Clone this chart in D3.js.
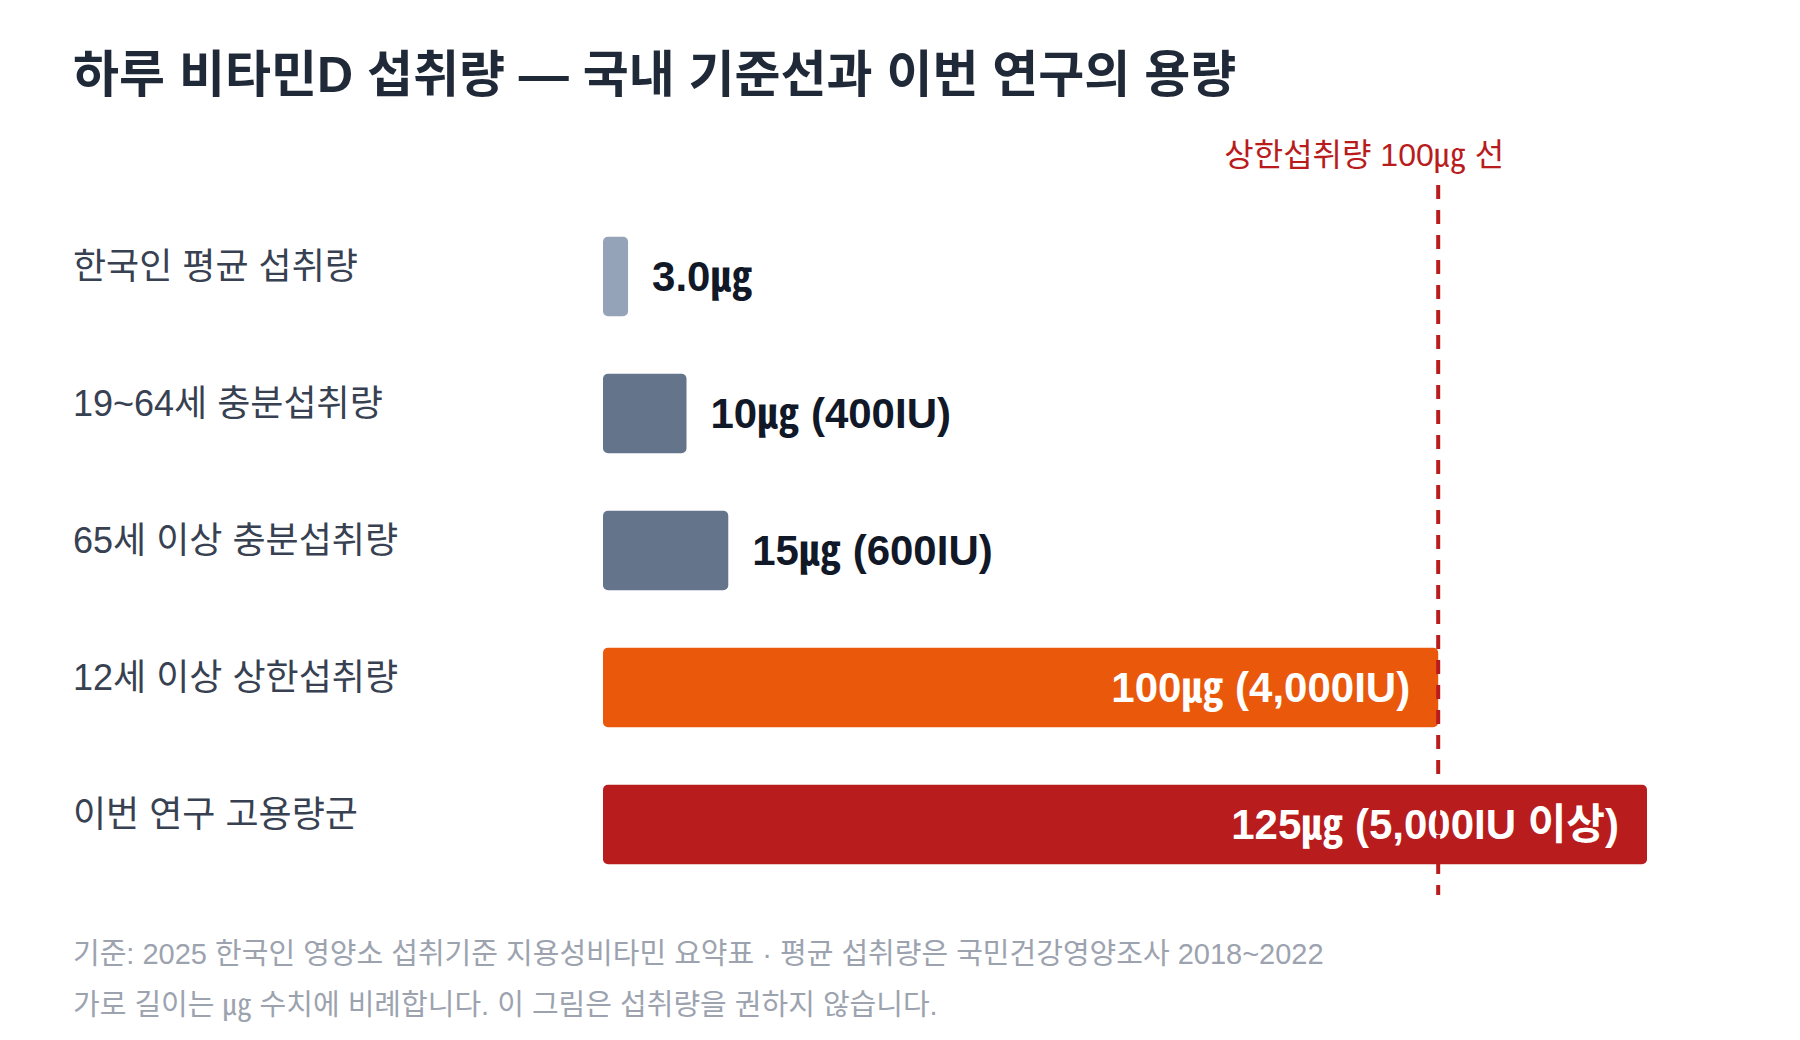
<!DOCTYPE html>
<html><head><meta charset="utf-8">
<script src="https://cdn.jsdelivr.net/npm/d3@7/dist/d3.min.js"></script>
<style>body{margin:0;background:#fff;font-family:"Liberation Sans","Noto Sans CJK KR",sans-serif;}</style>
</head><body><svg id="c" width="1800" height="1040"></svg>
<script>
const categories = ["한국인 평균 섭취량","19~64세 충분섭취량","65세 이상 충분섭취량","12세 이상 상한섭취량","이번 연구 고용량군"];
const values = [3, 10, 15, 100, 125];
const valueLabels = ["3.0㎍","10㎍ (400IU)","15㎍ (600IU)","100㎍ (4,000IU)","125㎍ (5,000IU 이상)"];
const colors = ["#94a3b8","#64748b","#64748b","#ea580c","#b91c1c"];
const inside = [false,false,false,true,true];
const refValue = 100;
const refLabel = "상한섭취량 100㎍ 선";
const title = "하루 비타민D 섭취량 — 국내 기준선과 이번 연구의 용량";
const notes = ["기준: 2025 한국인 영양소 섭취기준 지용성비타민 요약표 · 평균 섭취량은 국민건강영양조사 2018~2022","가로 길이는 ㎍ 수치에 비례합니다. 이 그림은 섭취량을 권하지 않습니다."];

const svg = d3.select("#c");
const x = d3.scaleLinear().domain([0,125]).range([603,1647]);
const y = d3.scaleBand().domain(categories).range([208,893]).paddingInner(0.42).paddingOuter(0.21);

svg.append("text").attr("x",73).attr("y",92).attr("font-size",50).attr("font-weight",700).attr("fill","#1f2937").text(title);

const g = svg.selectAll("g.row").data(categories).join("g");
g.append("text").attr("x",73).attr("y",(d)=>y(d)+y.bandwidth()/2+2).attr("font-size",36).attr("fill","#374151").text(d=>d);
g.append("rect").attr("x",x(0)).attr("y",d=>y(d)).attr("height",y.bandwidth())
 .attr("width",(d,i)=>x(values[i])-x(0)).attr("rx",5).attr("fill",(d,i)=>colors[i]);
g.append("text").attr("x",(d,i)=>inside[i]?x(values[i])-28:x(values[i])+24)
 .attr("y",d=>y(d)+y.bandwidth()/2+14).attr("text-anchor",(d,i)=>inside[i]?"end":"start")
 .attr("font-size",42).attr("font-weight",700).attr("fill",(d,i)=>inside[i]?"#fff":"#111827").text((d,i)=>valueLabels[i]);

svg.append("line").attr("x1",x(refValue)).attr("x2",x(refValue)).attr("y1",185).attr("y2",895)
 .attr("stroke","#b91c1c").attr("stroke-width",4).attr("stroke-dasharray","14,11");
svg.append("text").attr("x",x(refValue)-74).attr("y",166).attr("text-anchor","middle").attr("font-size",32).attr("fill","#b91c1c").text(refLabel);

svg.selectAll("text.note").data(notes).join("text").attr("x",73).attr("y",(d,i)=>964+i*51)
 .attr("font-size",29).attr("fill","#9ca3af").text(d=>d);
</script></body></html>
